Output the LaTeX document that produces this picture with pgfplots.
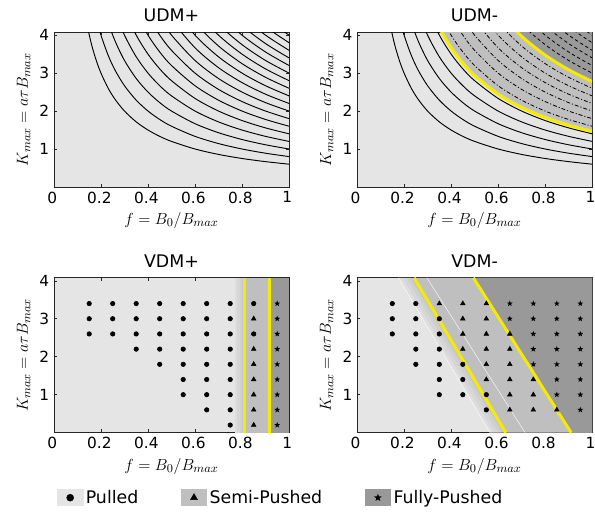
\documentclass[border=0pt]{standalone}
\usepackage[no-math]{fontspec}
\setmainfont{DejaVu Sans}
\usepackage{pgfplots}
\usepackage{pgfplotstable}
\pgfplotsset{compat=1.18}
\usepgfplotslibrary{groupplots,fillbetween}

\definecolor{lt}{gray}{0.90}
\definecolor{md}{gray}{0.75}
\definecolor{dk}{gray}{0.60}
\definecolor{g1}{gray}{0.87}
\definecolor{g2}{gray}{0.84}
\definecolor{g3}{gray}{0.81}
\definecolor{g4}{gray}{0.78}
\definecolor{yl}{RGB}{245,235,0}

% filled five-point star
\pgfdeclareplotmark{fstar}{%
  \pgfpathmoveto{\pgfpointpolar{90}{\pgfplotmarksize}}%
  \pgfpathlineto{\pgfpointpolar{126}{0.42\pgfplotmarksize}}%
  \pgfpathlineto{\pgfpointpolar{162}{\pgfplotmarksize}}%
  \pgfpathlineto{\pgfpointpolar{198}{0.42\pgfplotmarksize}}%
  \pgfpathlineto{\pgfpointpolar{234}{\pgfplotmarksize}}%
  \pgfpathlineto{\pgfpointpolar{270}{0.42\pgfplotmarksize}}%
  \pgfpathlineto{\pgfpointpolar{306}{\pgfplotmarksize}}%
  \pgfpathlineto{\pgfpointpolar{342}{0.42\pgfplotmarksize}}%
  \pgfpathlineto{\pgfpointpolar{18}{\pgfplotmarksize}}%
  \pgfpathlineto{\pgfpointpolar{54}{0.42\pgfplotmarksize}}%
  \pgfpathclose
  \pgfusepathqfill}

% contour lines K(f)
\pgfplotstableread{
f    c06   c08   c10   c12   c14   c147  c16   c18   c20   c22   c24   c26   c278  c28   c30   c32   c34   c36   c38   c40
0.14 4.286 5.714 7.143 nan   nan   nan   nan   nan   nan   nan   nan   nan   nan   nan   nan   nan   nan   nan   nan   nan
0.16 3.75  5.0   6.25  7.5   nan   nan   nan   nan   nan   nan   nan   nan   nan   nan   nan   nan   nan   nan   nan   nan
0.18 3.333 4.444 5.556 6.667 7.778 nan   nan   nan   nan   nan   nan   nan   nan   nan   nan   nan   nan   nan   nan   nan
0.20 3.0   4.0   5.0   6.0   7.0   7.35  nan   nan   nan   nan   nan   nan   nan   nan   nan   nan   nan   nan   nan   nan
0.23 2.609 3.478 4.348 5.217 6.087 6.391 6.957 nan   nan   nan   nan   nan   nan   nan   nan   nan   nan   nan   nan   nan
0.26 2.308 3.077 3.846 4.615 5.385 5.654 6.154 6.923 nan   nan   nan   nan   nan   nan   nan   nan   nan   nan   nan   nan
0.30 2.0   2.667 3.333 4.0   4.667 4.9   5.333 6.0   6.667 nan   nan   nan   nan   nan   nan   nan   nan   nan   nan   nan
0.35 1.714 2.286 2.857 3.429 4.0   4.2   4.571 5.143 5.714 6.286 nan   nan   nan   nan   nan   nan   nan   nan   nan   nan
0.40 1.5   2.0   2.5   3.0   3.5   3.675 4.0   4.5   5.0   5.5   6.0   nan   nan   nan   nan   nan   nan   nan   nan   nan
0.45 1.333 1.778 2.222 2.667 3.111 3.267 3.556 4.0   4.444 4.889 5.333 5.778 6.178 nan   nan   nan   nan   nan   nan   nan
0.50 1.2   1.6   2.0   2.4   2.8   2.94  3.2   3.6   4.0   4.4   4.8   5.2   5.56  5.6   6.0   nan   nan   nan   nan   nan
0.60 1.0   1.333 1.667 2.0   2.333 2.45  2.667 3.0   3.333 3.667 4.0   4.333 4.633 4.667 5.0   5.333 5.667 nan   nan   nan
0.70 0.857 1.143 1.429 1.714 2.0   2.1   2.286 2.571 2.857 3.143 3.429 3.714 3.971 4.0   4.286 4.571 4.857 5.143 5.429 nan
0.80 0.75  1.0   1.25  1.5   1.75  1.838 2.0   2.25  2.5   2.75  3.0   3.25  3.475 3.5   3.75  4.0   4.25  4.5   4.75  5.0
0.90 0.667 0.889 1.111 1.333 1.556 1.633 1.778 2.0   2.222 2.444 2.667 2.889 3.089 3.111 3.333 3.556 3.778 4.0   4.222 4.444
1.00 0.6   0.8   1.0   1.2   1.4   1.47  1.6   1.8   2.0   2.2   2.4   2.6   2.78  2.8   3.0   3.2   3.4   3.6   3.8   4.0
}\udm

\begin{document}
\begin{tikzpicture}
\begin{groupplot}[
  group style={group size=2 by 2, horizontal sep=51pt, vertical sep=68pt},
  scale only axis, width=176pt, height=116pt,
  xmin=0, xmax=1, ymin=0, ymax=4.08,
  xtick={0,0.2,0.4,0.6,0.8,1}, xticklabels={0,0.2,0.4,0.6,0.8,1},
  ytick={1,2,3,4}, yticklabels={1,2,3,4},
  tick align=inside, major tick length=2.5pt,
  tick style={black!85, line width=0.4pt},
  axis line style={black!85, line width=0.5pt},
  axis background/.style={fill=lt},
  /pgf/number format/assume math mode=true,
  tick label style={font=\fontsize{11.5}{12}\selectfont},
  xticklabel style={xshift=-1.2pt},
  title style={font=\fontsize{13}{14}\selectfont, yshift=-2pt},
  label style={font=\fontsize{12.5}{13}\selectfont},
  xlabel={$f = B_0/B_{max}$},
  ylabel={$K_{max} = a\tau B_{max}$},
]

% ---------------- UDM+ ----------------
\nextgroupplot[title={UDM+}]
\pgfplotsinvokeforeach{c06,c08,c10,c12,c14,c16,c18,c20,c22,c24,c26,c28,c30,c32,c34,c36,c38,c40}{
  \addplot[black, line width=0.7pt, smooth] table[x=f, y=#1] {\udm};
}

% ---------------- UDM- ----------------
\nextgroupplot[title={UDM-}]
\addplot[name path=yA, draw=none, smooth] table[x=f, y=c147] {\udm};
\addplot[name path=yB, draw=none, smooth] table[x=f, y=c278] {\udm};
\addplot[name path=tp, draw=none] coordinates {(0,9) (1,9)};
\addplot[md] fill between[of=yA and tp];
\addplot[dk] fill between[of=yB and tp];
\pgfplotsinvokeforeach{c06,c08,c10,c12,c14}{
  \addplot[black, line width=0.7pt, smooth] table[x=f, y=#1] {\udm};
}
\pgfplotsinvokeforeach{c16,c18,c20,c22,c24,c26}{
  \addplot[black, line width=0.6pt, smooth, dash pattern=on 3pt off 1.5pt on 0.8pt off 1.5pt] table[x=f, y=#1] {\udm};
}
\pgfplotsinvokeforeach{c30,c32,c34,c36,c38,c40}{
  \addplot[black, line width=0.6pt, smooth, dash pattern=on 2.5pt off 2pt] table[x=f, y=#1] {\udm};
}
\addplot[yl, line width=2.2pt, smooth] table[x=f, y=c147] {\udm};
\addplot[yl, line width=2.2pt, smooth] table[x=f, y=c278] {\udm};

% ---------------- VDM+ ----------------
\nextgroupplot[title={VDM+}]
\addplot[fill=g1, draw=none] coordinates {(0.77,0) (0.78,0) (0.78,4.08) (0.77,4.08)};
\addplot[fill=g2, draw=none] coordinates {(0.78,0) (0.79,0) (0.79,4.08) (0.78,4.08)};
\addplot[fill=g3, draw=none] coordinates {(0.79,0) (0.80,0) (0.80,4.08) (0.79,4.08)};
\addplot[fill=g4, draw=none] coordinates {(0.80,0) (0.809,0) (0.809,4.08) (0.80,4.08)};
\addplot[fill=md, draw=none] coordinates {(0.809,0) (0.919,0) (0.919,4.08) (0.809,4.08)};
\addplot[fill=dk, draw=none] coordinates {(0.919,0) (1,0) (1,4.08) (0.919,4.08)};
\addplot[yl, line width=2.2pt] coordinates {(0.809,0) (0.809,4.08)};
\addplot[yl, line width=2.2pt] coordinates {(0.919,0) (0.919,4.08)};
\addplot[only marks, mark=*, mark size=1.7pt, black] coordinates {
  (0.15,2.6) (0.15,3.0) (0.15,3.4)
  (0.25,2.6) (0.25,3.0) (0.25,3.4)
  (0.35,2.2) (0.35,2.6) (0.35,3.0) (0.35,3.4)
  (0.45,1.8) (0.45,2.2) (0.45,2.6) (0.45,3.0) (0.45,3.4)
  (0.55,1.0) (0.55,1.4) (0.55,1.8) (0.55,2.2) (0.55,2.6) (0.55,3.0) (0.55,3.4)
  (0.65,0.6) (0.65,1.0) (0.65,1.4) (0.65,1.8) (0.65,2.2) (0.65,2.6) (0.65,3.0) (0.65,3.4)
  (0.75,0.2) (0.75,0.6) (0.75,1.0) (0.75,1.4) (0.75,1.8) (0.75,2.2) (0.75,2.6) (0.75,3.0) (0.75,3.4)
  (0.85,2.6) (0.85,3.4)
};
\addplot[only marks, mark=triangle*, mark size=2pt, black] coordinates {
  (0.85,0.2) (0.85,0.6) (0.85,1.0) (0.85,1.4) (0.85,1.8) (0.85,2.2) (0.85,3.0)
};
\addplot[only marks, mark=fstar, mark size=2.3pt, black] coordinates {
  (0.95,0.2) (0.95,0.6) (0.95,1.0) (0.95,1.4) (0.95,1.8) (0.95,2.2) (0.95,2.6) (0.95,3.0) (0.95,3.4)
};

% ---------------- VDM- ----------------
\nextgroupplot[title={VDM-},
  legend style={at={(-0.323,-0.42)}, anchor=center, draw=none, fill=none,
    font=\fontsize{13}{14}\selectfont,
    /tikz/every even column/.append style={column sep=30pt}},
  legend columns=3, legend cell align=left]
\addlegendimage{legend image code/.code={\fill[lt] (0pt,-6pt) rectangle (19pt,6pt);
  \fill[black] (9.5pt,0pt) circle (2.6pt);}}
\addlegendentry{Pulled}
\addlegendimage{legend image code/.code={\fill[md] (0pt,-6pt) rectangle (19pt,6pt);
  \draw[black, mark=triangle*, mark size=3pt] plot coordinates {(9.5pt,0pt)};}}
\addlegendentry{Semi-Pushed}
\addlegendimage{legend image code/.code={\fill[dk] (0pt,-6pt) rectangle (19pt,6pt);
  \draw[black, mark=fstar, mark size=3pt] plot coordinates {(9.5pt,0pt)};}}
\addlegendentry{Fully-Pushed}

\addplot[fill=md, draw=none] coordinates {(0.243,4.08) (1,4.08) (1,0) (0.633,0)};
\addplot[fill=dk, draw=none] coordinates {(0.495,4.08) (1,4.08) (1,0) (0.911,0)};
\addplot[fill=g1, draw=none] coordinates {(0.176,4.08) (0.193,4.08) (0.583,0) (0.566,0)};
\addplot[fill=g2, draw=none] coordinates {(0.193,4.08) (0.210,4.08) (0.600,0) (0.583,0)};
\addplot[fill=g3, draw=none] coordinates {(0.210,4.08) (0.226,4.08) (0.616,0) (0.600,0)};
\addplot[fill=g4, draw=none] coordinates {(0.226,4.08) (0.243,4.08) (0.633,0) (0.616,0)};
\addplot[white, line width=0.3pt] coordinates {(0.176,4.08) (0.566,0)};
\addplot[white, line width=0.3pt] coordinates {(0.297,4.08) (0.715,0)};
\addplot[yl, line width=2.2pt] coordinates {(0.243,4.08) (0.633,0)};
\addplot[yl, line width=2.2pt] coordinates {(0.495,4.08) (0.911,0)};
\addplot[only marks, mark=*, mark size=1.7pt, black] coordinates {
  (0.15,2.6) (0.15,3.0) (0.15,3.4)
  (0.25,1.8) (0.25,2.2) (0.25,2.6) (0.25,3.0) (0.25,3.4)
  (0.35,1.0) (0.35,1.4) (0.35,1.8) (0.35,2.2) (0.35,2.6) (0.35,3.0)
  (0.45,1.0) (0.45,1.4) (0.45,1.8)
  (0.55,0.6) (0.55,1.0)
};
\addplot[only marks, mark=triangle*, mark size=2pt, black] coordinates {
  (0.35,3.4)
  (0.45,2.2) (0.45,2.6) (0.45,3.0) (0.45,3.4)
  (0.55,1.4) (0.55,1.8) (0.55,2.2) (0.55,2.6) (0.55,3.0) (0.55,3.4)
  (0.65,0.6) (0.65,1.0) (0.65,1.4) (0.65,1.8) (0.65,2.2) (0.65,2.6)
  (0.75,0.6) (0.75,1.0) (0.75,1.4)
  (0.85,0.6)
};
\addplot[only marks, mark=fstar, mark size=2.3pt, black] coordinates {
  (0.65,3.0) (0.65,3.4)
  (0.75,1.8) (0.75,2.2) (0.75,2.6) (0.75,3.0) (0.75,3.4)
  (0.85,1.0) (0.85,1.4) (0.85,1.8) (0.85,2.2) (0.85,2.6) (0.85,3.0) (0.85,3.4)
  (0.95,0.6) (0.95,1.0) (0.95,1.4) (0.95,1.8) (0.95,2.2) (0.95,2.6) (0.95,3.0) (0.95,3.4)
};
\end{groupplot}
% page margins as in the reference
\pgfresetboundingbox
\path ([shift={(-40.4pt,24pt)}]group c1r1.north west);
\path ([shift={(2.2pt,-71.2pt)}]group c2r2.south east);
\end{tikzpicture}
\end{document}
